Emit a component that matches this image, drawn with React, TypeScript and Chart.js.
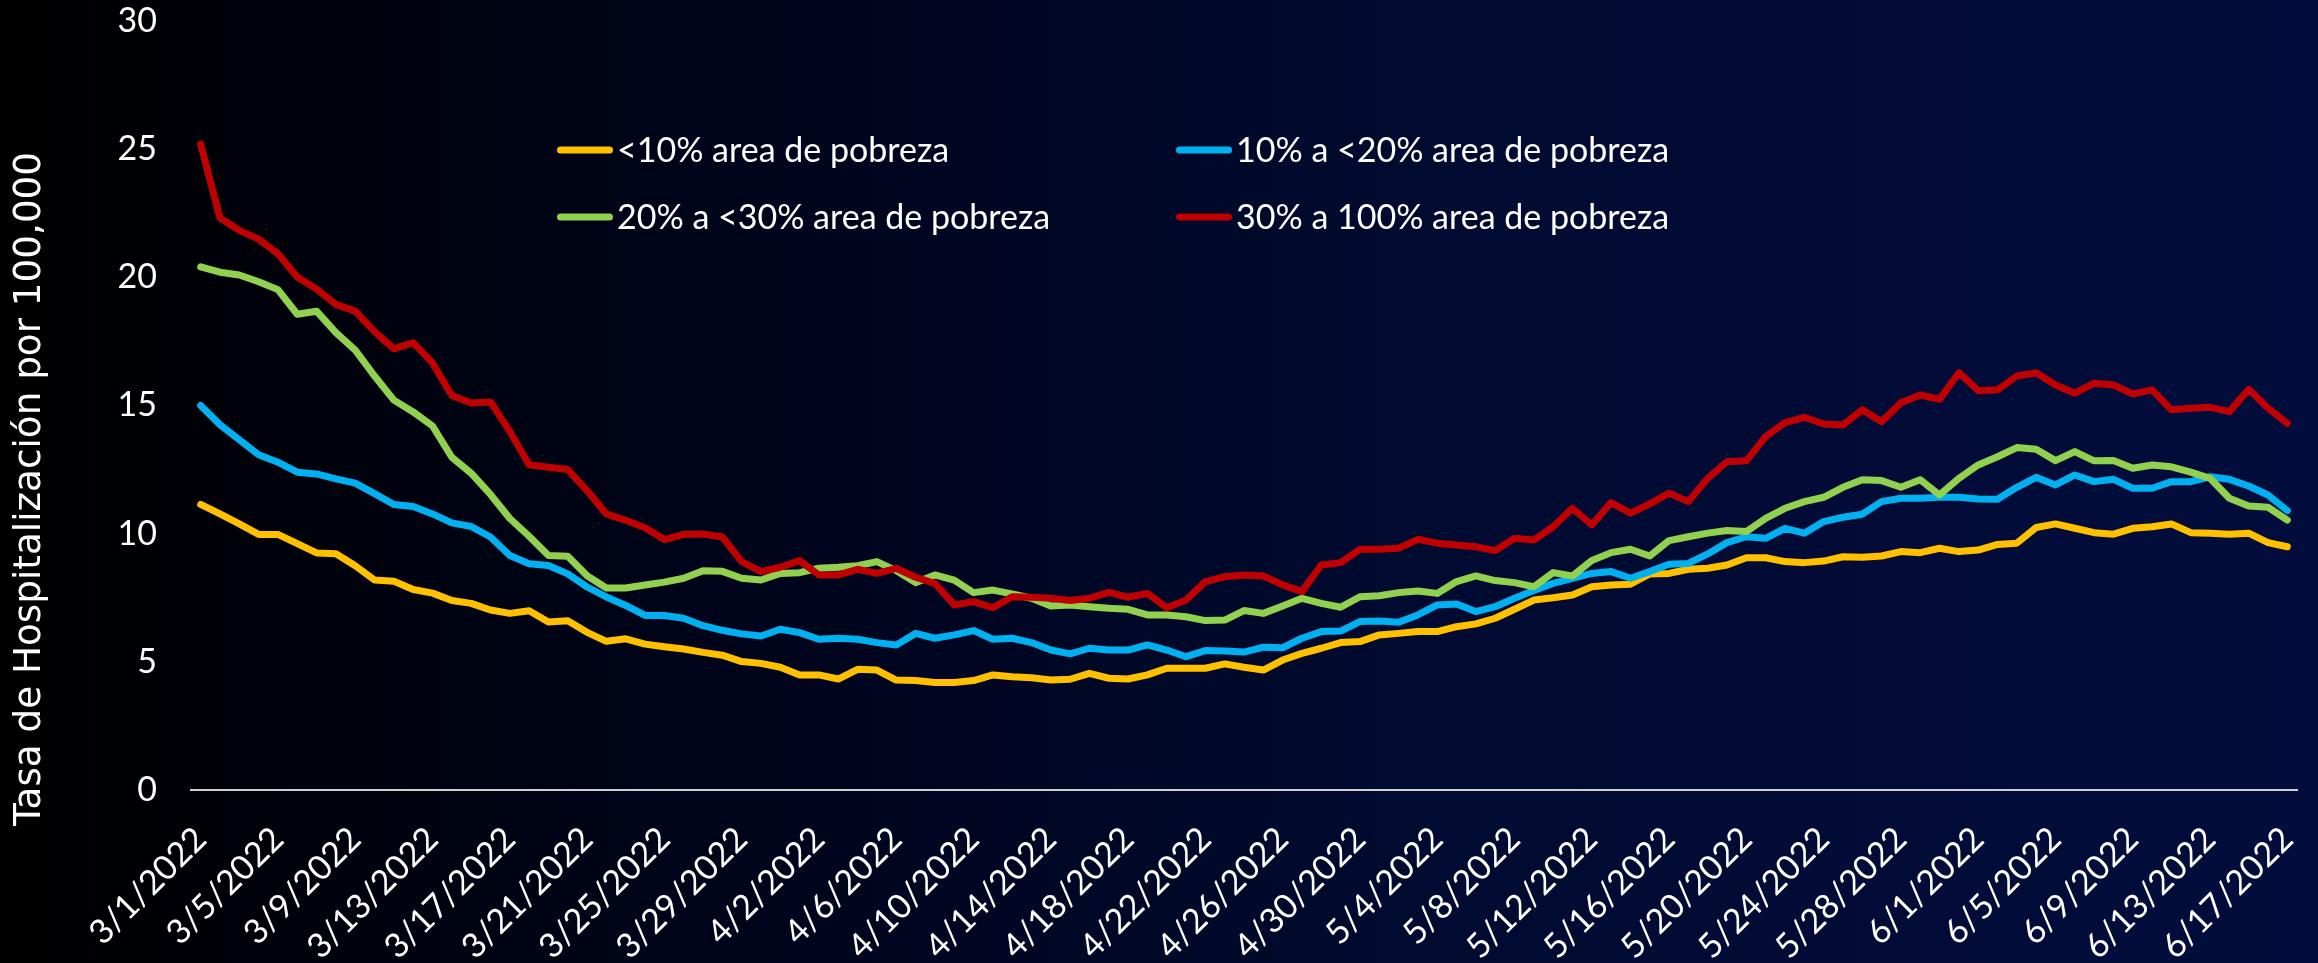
import { useEffect, useRef } from "react";
import { Chart, registerables } from "chart.js";

Chart.register(...registerables);

const categories: string[] = [
  "3/1/2022","3/2/2022","3/3/2022","3/4/2022","3/5/2022","3/6/2022","3/7/2022","3/8/2022","3/9/2022","3/10/2022",
  "3/11/2022","3/12/2022","3/13/2022","3/14/2022","3/15/2022","3/16/2022","3/17/2022","3/18/2022","3/19/2022","3/20/2022",
  "3/21/2022","3/22/2022","3/23/2022","3/24/2022","3/25/2022","3/26/2022","3/27/2022","3/28/2022","3/29/2022","3/30/2022",
  "3/31/2022","4/1/2022","4/2/2022","4/3/2022","4/4/2022","4/5/2022","4/6/2022","4/7/2022","4/8/2022","4/9/2022",
  "4/10/2022","4/11/2022","4/12/2022","4/13/2022","4/14/2022","4/15/2022","4/16/2022","4/17/2022","4/18/2022","4/19/2022",
  "4/20/2022","4/21/2022","4/22/2022","4/23/2022","4/24/2022","4/25/2022","4/26/2022","4/27/2022","4/28/2022","4/29/2022",
  "4/30/2022","5/1/2022","5/2/2022","5/3/2022","5/4/2022","5/5/2022","5/6/2022","5/7/2022","5/8/2022","5/9/2022",
  "5/10/2022","5/11/2022","5/12/2022","5/13/2022","5/14/2022","5/15/2022","5/16/2022","5/17/2022","5/18/2022","5/19/2022",
  "5/20/2022","5/21/2022","5/22/2022","5/23/2022","5/24/2022","5/25/2022","5/26/2022","5/27/2022","5/28/2022","5/29/2022",
  "5/30/2022","5/31/2022","6/1/2022","6/2/2022","6/3/2022","6/4/2022","6/5/2022","6/6/2022","6/7/2022","6/8/2022",
  "6/9/2022","6/10/2022","6/11/2022","6/12/2022","6/13/2022","6/14/2022","6/15/2022","6/16/2022","6/17/2022"
];

const seriesNames: string[] = [
  "<10% area de pobreza",
  "10% a <20% area de pobreza",
  "20% a <30% area de pobreza",
  "30% a 100% area de pobreza"
];

const under10: number[] = [
  11.14, 10.77, 10.38, 9.97, 9.97, 9.61, 9.25, 9.22, 8.75, 8.19, 8.14, 7.82, 7.68, 7.39, 7.28, 7.02, 6.89, 6.99, 6.55, 6.6,
  6.15, 5.8, 5.9, 5.69, 5.59, 5.5, 5.37, 5.26,
  5.01, 4.94, 4.79, 4.49, 4.49, 4.33, 4.71, 4.68, 4.29, 4.27, 4.19, 4.19, 4.27, 4.49, 4.42, 4.38, 4.29, 4.32, 4.55, 4.36,
  4.33, 4.49, 4.75, 4.75, 4.75, 4.92, 4.79,
  4.68, 5.07, 5.33, 5.53, 5.75, 5.79, 6.05, 6.11, 6.18, 6.18, 6.37, 6.48, 6.7, 7.05, 7.41, 7.5, 7.61, 7.93, 8.0, 8.03,
  8.43, 8.45, 8.61, 8.65, 8.78, 9.06, 9.06,
  8.91, 8.87, 8.93, 9.1, 9.08, 9.13, 9.3, 9.26, 9.43, 9.3, 9.36, 9.58, 9.63, 10.24, 10.38, 10.21, 10.04, 9.98, 10.21, 10.27,
  10.38, 10.04, 10.02, 9.98, 10.02, 9.65, 9.49
];

const from10to20: number[] = [
  15.0, 14.25, 13.66, 13.08, 12.79, 12.4, 12.33, 12.14, 11.97, 11.56, 11.14, 11.06, 10.77, 10.42, 10.28, 9.87, 9.15, 8.83,
  8.76, 8.43, 7.92, 7.53, 7.2, 6.81, 6.81, 6.7, 6.41, 6.23,
  6.09, 6.01, 6.27, 6.14, 5.88, 5.92, 5.88, 5.75, 5.66, 6.11, 5.92, 6.05, 6.22, 5.88, 5.92, 5.75, 5.46, 5.31, 5.53, 5.46,
  5.46, 5.66, 5.46, 5.2, 5.44, 5.42, 5.38,
  5.57, 5.55, 5.92, 6.18, 6.2, 6.57, 6.59, 6.54, 6.83, 7.22, 7.26, 6.96, 7.15, 7.48, 7.78, 8.06, 8.26, 8.45, 8.52, 8.26,
  8.52, 8.81, 8.84, 9.21, 9.65, 9.88, 9.82,
  10.21, 10.02, 10.47, 10.64, 10.76, 11.25, 11.38, 11.38, 11.42, 11.42, 11.35, 11.34, 11.81, 12.2, 11.9, 12.29, 12.03,
  12.12, 11.77, 11.77, 12.03, 12.03, 12.22, 12.12, 11.86, 11.51, 10.9
];

const from20to30: number[] = [
  20.41, 20.2, 20.09, 19.83, 19.52, 18.56, 18.68, 17.84, 17.16, 16.15, 15.21, 14.75, 14.2, 12.98, 12.36, 11.53, 10.59, 9.9,
  9.15, 9.12, 8.36, 7.88, 7.88, 8.0, 8.11, 8.26, 8.55, 8.53,
  8.26, 8.19, 8.45, 8.48, 8.65, 8.69, 8.75, 8.91, 8.56, 8.09, 8.39, 8.19, 7.7, 7.8, 7.65, 7.48, 7.18, 7.22, 7.15, 7.09,
  7.05, 6.83, 6.83, 6.76, 6.61, 6.63, 7.0,
  6.89, 7.18, 7.48, 7.28, 7.13, 7.54, 7.58, 7.7, 7.76, 7.67, 8.13, 8.35, 8.17, 8.09, 7.93, 8.48, 8.35, 8.95, 9.26, 9.39,
  9.13, 9.73, 9.88, 10.02, 10.12, 10.08, 10.6,
  10.99, 11.25, 11.42, 11.81, 12.1, 12.07, 11.81, 12.1, 11.51, 12.16, 12.68, 13.0, 13.36, 13.29, 12.85, 13.2, 12.84, 12.85,
  12.55, 12.68, 12.61, 12.4, 12.16, 11.38, 11.08, 11.03, 10.53
];

const from30to100: number[] = [
  25.2, 22.32, 21.83, 21.49, 20.92, 20.01, 19.54, 18.94, 18.68, 17.88, 17.21, 17.45, 16.66, 15.39, 15.1, 15.14, 13.99,
  12.69, 12.59, 12.5, 11.68, 10.77, 10.52, 10.23, 9.77, 9.97, 9.99, 9.87,
  8.91, 8.52, 8.69, 8.95, 8.39, 8.39, 8.61, 8.45, 8.65, 8.3, 8.06, 7.22, 7.35, 7.11, 7.54, 7.52, 7.48, 7.39, 7.48, 7.71,
  7.52, 7.67, 7.11, 7.41, 8.13, 8.32, 8.39,
  8.35, 8.0, 7.74, 8.78, 8.87, 9.39, 9.39, 9.43, 9.78, 9.63, 9.56, 9.49, 9.34, 9.82, 9.75, 10.27, 10.99, 10.34, 11.21,
  10.8, 11.16, 11.58, 11.25, 12.16, 12.81, 12.84, 13.79,
  14.33, 14.54, 14.28, 14.24, 14.83, 14.37, 15.11, 15.41, 15.24, 16.28, 15.58, 15.61, 16.15, 16.28, 15.8, 15.48, 15.87,
  15.8, 15.45, 15.61, 14.83, 14.89, 14.93, 14.76, 15.63, 14.89, 14.31
];

const seriesColors: string[] = ["#FFC000", "#00B0F0", "#92D050", "#C00000"];
const yTicks: number[] = [0, 5, 10, 15, 20, 25, 30];
const yTitle = "Tasa de Hospitalización por 100,000";

const TEXT_FONT = "Lato";
const TEXT_SIZE = 34;

const backgroundPlugin = {
  id: "bgGradient",
  beforeDraw(chart: any) {
    const { ctx, width, height } = chart;
    ctx.save();
    const g = ctx.createLinearGradient(0, 0, width, 0);
    g.addColorStop(0, "#000000");
    g.addColorStop(0.3, "#00041a");
    g.addColorStop(0.6, "#010a2f");
    g.addColorStop(1, "#030d3d");
    ctx.fillStyle = g;
    ctx.fillRect(0, 0, width, height);
    ctx.restore();
  },
};

const legendPlugin = {
  id: "gridLegend",
  afterDraw(chart: any) {
    const { ctx } = chart;
    const cols = [557, 1176];
    const rows = [150, 217];
    const order = [0, 1, 2, 3];
    ctx.save();
    ctx.font = `${TEXT_SIZE}px ${TEXT_FONT}`;
    ctx.textBaseline = "middle";
    ctx.textAlign = "left";
    order.forEach((di, k) => {
      const ds = chart.data.datasets[di];
      const x = cols[k % 2];
      const y = rows[Math.floor(k / 2)];
      ctx.strokeStyle = ds.borderColor;
      ctx.lineWidth = 7;
      ctx.lineCap = "round";
      ctx.beginPath();
      ctx.moveTo(x + 3.5, y);
      ctx.lineTo(x + 52.5, y);
      ctx.stroke();
      ctx.fillStyle = "#ffffff";
      ctx.fillText(ds.label, x + 60, y + 1);
    });
    ctx.restore();
  },
};

const yTitlePlugin = {
  id: "yTitle",
  afterDraw(chart: any) {
    const { ctx } = chart;
    ctx.save();
    ctx.translate(30, 489);
    ctx.rotate(-Math.PI / 2);
    ctx.font = `37.3px "DejaVu Sans"`;
    ctx.fillStyle = "#ffffff";
    ctx.textAlign = "center";
    ctx.textBaseline = "middle";
    ctx.fillText(yTitle, 0, 0);
    ctx.restore();
  },
};

export default function App() {
  const ref = useRef<HTMLCanvasElement>(null);

  useEffect(() => {
    document.body.style.margin = "0";
    const canvas = ref.current;
    if (!canvas) return;
    const values = [under10, from10to20, from20to30, from30to100];
    const chart = new Chart(canvas, {
      type: "line",
      data: {
        labels: categories,
        datasets: values.map((v, i) => ({
          label: seriesNames[i],
          data: v,
          borderColor: seriesColors[i],
          backgroundColor: seriesColors[i],
          borderWidth: 7,
          pointRadius: 0,
          tension: 0,
          fill: false,
          order: 3 - i,
          borderCapStyle: "round" as const,
          borderJoinStyle: "round" as const,
        })),
      },
      options: {
        responsive: false,
        devicePixelRatio: 1,
        animation: false,
        layout: { padding: { top: 21, right: 21, left: 0, bottom: 0 } },
        plugins: {
          legend: { display: false },
          tooltip: { enabled: false },
          title: { display: false },
        },
        scales: {
          x: {
            offset: true,
            grid: { display: false, drawTicks: false },
            border: { display: true, color: "#d0d0d0", width: 2 },
            ticks: {
              autoSkip: false,
              minRotation: 45,
              maxRotation: 45,
              padding: 29,
              color: "#ffffff",
              font: { family: TEXT_FONT, size: TEXT_SIZE },
              callback: (_v: any, i: number) => (i % 4 === 0 ? categories[i] : ""),
            },
            afterFit: (s: any) => {
              s.height = 173;
              s.paddingLeft = 0;
              s.paddingRight = 0;
            },
          },
          y: {
            min: yTicks[0],
            max: yTicks[yTicks.length - 1],
            grid: { display: false, drawTicks: false },
            border: { display: false },
            ticks: {
              stepSize: 5,
              padding: 34,
              color: "#ffffff",
              font: { family: TEXT_FONT, size: TEXT_SIZE },
            },
            afterFit: (s: any) => {
              s.width = 191;
              s.paddingTop = 0;
              s.paddingBottom = 0;
            },
          },
        },
      },
      plugins: [backgroundPlugin, legendPlugin, yTitlePlugin],
    });
    return () => chart.destroy();
  }, []);

  return <canvas ref={ref} width={2318} height={963} style={{ display: "block" }} />;
}
